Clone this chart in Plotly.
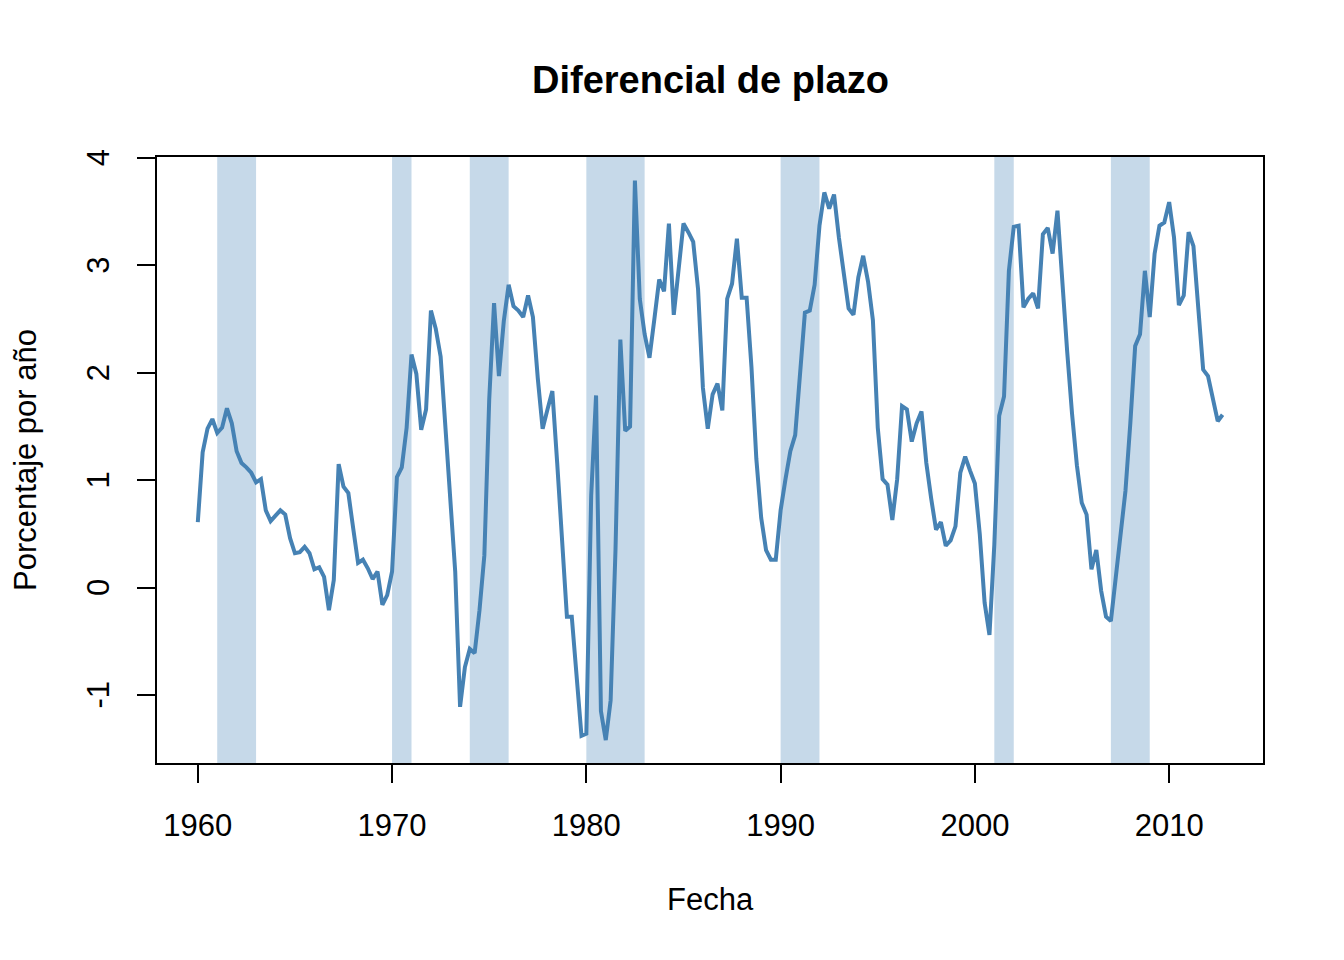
import plotly.graph_objects as go

# diferencial de plazo (10 años - 3 meses), trimestral 1960T1 - 2012T4
spread = [
    0.61, 1.26, 1.48, 1.57,   # 1960
    1.44, 1.49, 1.67, 1.53,   # 1961
    1.27, 1.16, 1.12, 1.07,   # 1962
    0.98, 1.01, 0.72, 0.62,   # 1963
    0.67, 0.72, 0.68, 0.46,   # 1964
    0.32, 0.33, 0.38, 0.32,   # 1965
    0.17, 0.19, 0.10, -0.21,  # 1966
    0.07, 1.15, 0.94, 0.88,   # 1967
    0.55, 0.23, 0.26, 0.18,   # 1968
    0.08, 0.15, -0.16, -0.07, # 1969
    0.15, 1.03, 1.12, 1.49,   # 1970
    2.17, 1.99, 1.47, 1.66,   # 1971
    2.58, 2.41, 2.15, 1.44,   # 1972
    0.82, 0.15, -1.11, -0.74, # 1973
    -0.57, -0.61, -0.21, 0.30,  # 1974
    1.75, 2.65, 1.97, 2.48,   # 1975
    2.82, 2.62, 2.58, 2.52,   # 1976
    2.72, 2.52, 1.95, 1.48,   # 1977
    1.66, 1.83, 1.16, 0.39,   # 1978
    -0.27, -0.27, -0.82, -1.38,  # 1979
    -1.36, 0.86, 1.79, -1.15, # 1980
    -1.42, -1.05, 0.35, 2.31, # 1981
    1.46, 1.50, 3.79, 2.69,   # 1982
    2.36, 2.14, 2.50, 2.87,   # 1983
    2.76, 3.39, 2.54, 2.96,   # 1984
    3.39, 3.31, 3.22, 2.78,   # 1985
    1.86, 1.48, 1.80, 1.90,   # 1986
    1.65, 2.69, 2.83, 3.25,   # 1987
    2.70, 2.70, 2.05, 1.20,   # 1988
    0.65, 0.35, 0.26, 0.26,   # 1989
    0.72, 1.01, 1.27, 1.42,   # 1990
    2.01, 2.56, 2.58, 2.82,   # 1991
    3.37, 3.68, 3.53, 3.66,   # 1992
    3.26, 2.96, 2.60, 2.54,   # 1993
    2.89, 3.09, 2.85, 2.49,   # 1994
    1.49, 1.01, 0.96, 0.63,   # 1995
    1.01, 1.69, 1.66, 1.36,   # 1996
    1.53, 1.64, 1.16, 0.83,   # 1997
    0.54, 0.61, 0.39, 0.44,   # 1998
    0.57, 1.07, 1.22, 1.09,   # 1999
    0.97, 0.50, -0.14, -0.44, # 2000
    0.40, 1.60, 1.78, 2.95,   # 2001
    3.36, 3.37, 2.61, 2.69,   # 2002
    2.74, 2.60, 3.29, 3.35,   # 2003
    3.11, 3.51, 2.82, 2.20,   # 2004
    1.62, 1.14, 0.79, 0.68,   # 2005
    0.17, 0.35, -0.03, -0.27, # 2006
    -0.31, 0.10, 0.43, 0.90,  # 2007
    1.53, 2.25, 2.36, 2.95,   # 2008
    2.52, 3.11, 3.37, 3.40,   # 2009
    3.59, 3.26, 2.63, 2.72,   # 2010
    3.31, 3.18, 2.60, 2.03,   # 2011
    1.97, 1.75, 1.55, 1.61,   # 2012
]
fechas = [1960 + q / 4 for q in range(len(spread))]

# recesiones (sombreado)
rec_ini = [1961, 1970, 1974, 1980, 1990, 2001, 2007]
rec_fin = [1963, 1971, 1976, 1983, 1992, 2002, 2009]

x_ticks = [1960, 1970, 1980, 1990, 2000, 2010]
y_ticks = [-1, 0, 1, 2, 3, 4]
y_labels = ["-1", "0", "1", "2", "3", "4"]

fuente = "Liberation Sans, Arial, sans-serif"

fig = go.Figure()
fig.add_trace(go.Scatter(x=fechas, y=spread, mode="lines",
                         line=dict(color="#4682B4", width=4), showlegend=False))

for a, b in zip(rec_ini, rec_fin):
    fig.add_shape(type="rect", xref="x", yref="paper", x0=a, x1=b, y0=0, y1=1,
                  fillcolor="#C6D9E9", line_width=0, layer="below")

eje = dict(showline=True, mirror=True, linecolor="black", linewidth=2,
           ticks="outside", ticklen=18, tickwidth=2, tickcolor="black",
           showgrid=False, zeroline=False, ticklabelstandoff=16,
           tickfont=dict(family=fuente, size=31, color="black"))

fig.update_layout(
    width=1344, height=960,
    margin=dict(l=149, r=89, t=149, b=205),
    plot_bgcolor="white", paper_bgcolor="white",
    font=dict(family=fuente, color="black"),
    xaxis=dict(range=[1957.9, 2014.83], tickvals=x_ticks, **eje),
    yaxis=dict(range=[-1.633, 4.01], tickvals=y_ticks,
               # espacio final para centrar la etiqueta girada sobre la marca
               ticktext=[t + "\u00a0" for t in y_labels],
               tickangle=-90, **eje),
    annotations=[
        dict(text="<b>Diferencial de plazo</b>", xref="paper", yref="paper",
             x=0.5, y=1.127, xanchor="center", yanchor="middle",
             showarrow=False, font=dict(size=38)),
        dict(text="Fecha", xref="paper", yref="paper", x=0.5, y=-0.226,
             xanchor="center", yanchor="middle", showarrow=False,
             font=dict(size=31)),
        dict(text="Porcentaje por año", xref="paper", yref="paper", x=-0.1194, y=0.5,
             xanchor="center", yanchor="middle", textangle=-90, showarrow=False,
             font=dict(size=31)),
    ],
)

fig.write_html("out.html")
